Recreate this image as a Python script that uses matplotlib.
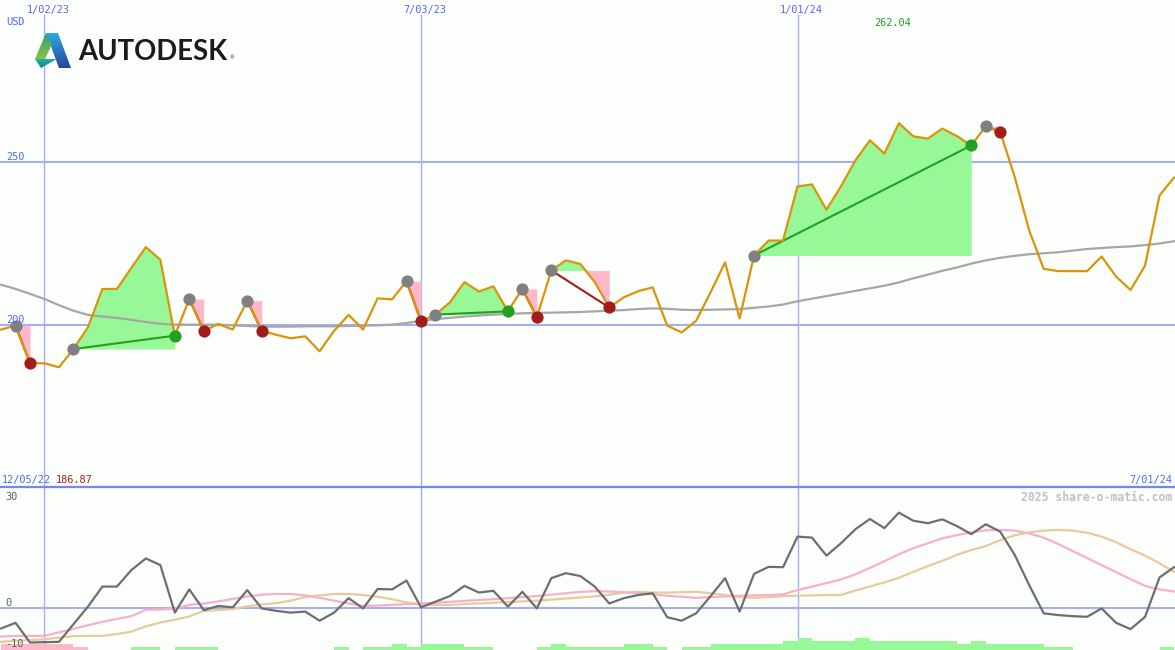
import numpy as np
import matplotlib
matplotlib.use("Agg")
import matplotlib.pyplot as plt
from matplotlib.patches import Polygon
from matplotlib.lines import Line2D
from matplotlib.colors import LinearSegmentedColormap

# ---------------- data ----------------
currency = "USD"
date_labels = ["1/02/23", "7/03/23", "1/01/24"]
date_weeks = [0, 26, 52]
start_label = "12/05/22"
end_label = "7/01/24"
min_label = "186.87"
max_label = "262.04"
price_ticks = [200, 250]
osc_ticks = [30, 0, -10]
credit = "2025 share-o-matic.com"
company = "AUTODESK"

weeks = list(range(-3, 79))  # weeks relative to 1/02/23

price = [198.5, 199.7, 188.1, 188.1, 186.87, 192.5, 199.2, 211.0, 211.0, 217.5,
         223.9, 220.0, 196.6, 207.9, 198.1, 200.2, 198.5, 207.4, 198.1, 196.9,
         195.8, 196.4, 191.8, 198.1, 203.0, 198.5, 208.1, 207.8, 213.4, 201.0,
         203.1, 206.9, 213.1, 210.2, 211.8, 204.1, 211.0, 202.3, 216.7, 219.8,
         218.7, 213.1, 205.3, 208.4, 210.3, 211.5, 199.7, 197.6, 201.2, 210.0,
         219.2, 201.9, 221.3, 225.9, 225.9, 242.6, 243.2, 235.4, 242.6, 250.6,
         256.8, 252.7, 262.04, 258.0, 257.3, 260.4, 258.1, 255.2, 261.1, 259.4,
         245.5, 229.0, 217.2, 216.5, 216.5, 216.5, 221.0, 214.8, 210.7, 218.2,
         239.8, 245.3]

sma = [212.3, 211.0, 209.5, 207.9, 206.0, 204.3, 203.0, 202.5, 202.1, 201.5,
       200.8, 200.3, 200.0, 200.0, 200.0, 200.0, 199.8, 199.6, 199.4, 199.4,
       199.4, 199.5, 199.5, 199.5, 199.6, 199.7, 199.8, 200.0, 200.5, 201.2,
       201.7, 202.1, 202.5, 202.8, 203.1, 203.3, 203.5, 203.6, 203.7, 203.8,
       203.9, 204.1, 204.3, 204.5, 204.8, 205.0, 204.9, 204.6, 204.5, 204.6,
       204.7, 204.8, 205.2, 205.6, 206.2, 207.2, 208.0, 208.8, 209.6, 210.4,
       211.2, 212.0, 213.0, 214.3, 215.4, 216.6, 217.6, 218.8, 219.8, 220.6,
       221.2, 221.7, 222.0, 222.3, 222.8, 223.3, 223.6, 223.9, 224.1, 224.5,
       225.0, 225.7]

momentum = [-5.9, -4.3, -9.9, -9.8, -9.7, -4.7, 0.3, 6.0, 6.0, 10.7,
            14.0, 12.1, -1.4, 5.2, -0.7, 0.5, 0.1, 5.0, -0.2, -0.9,
            -1.4, -1.1, -3.7, -1.4, 2.7, -0.2, 5.3, 5.2, 7.7, 0.1,
            1.7, 3.3, 6.2, 4.3, 4.8, 0.3, 4.5, -0.2, 8.4, 9.8,
            9.0, 6.0, 1.2, 2.7, 3.6, 4.1, -2.7, -3.7, -1.6, 3.3,
            8.4, -1.1, 9.6, 11.6, 11.5, 20.2, 19.9, 14.8, 18.3, 22.3,
            25.2, 22.6, 27.0, 24.7, 24.0, 25.1, 23.2, 20.9, 23.7, 21.6,
            15.0, 6.4, -1.6, -2.1, -2.4, -2.6, -0.2, -4.3, -6.1, -2.6,
            8.6, 11.5]

signal_fast = [-8.2, -8.0, -8.0, -8.0, -7.0, -6.0, -5.0, -4.0, -3.2, -2.4,
               -0.6, -0.5, -0.3, 0.8, 1.2, 1.8, 2.5, 3.2, 3.7, 3.9,
               3.9, 3.5, 2.8, 2.0, 1.2, 0.5, 0.6, 0.8, 1.0, 1.2,
               1.4, 1.7, 1.9, 2.2, 2.4, 2.7, 3.0, 3.3, 3.7, 4.1,
               4.5, 4.7, 4.6, 4.4, 4.1, 3.8, 3.4, 3.1, 2.8, 3.0,
               3.2, 3.4, 3.5, 3.6, 3.8, 5.0, 6.0, 7.0, 8.0, 9.5,
               11.3, 13.2, 15.2, 16.9, 18.3, 19.7, 20.6, 21.4, 22.0, 22.1,
               21.9, 21.1, 19.9, 18.1, 16.1, 14.1, 12.1, 10.1, 8.1, 6.2,
               5.2, 4.6]

signal_slow = [-9.7, -9.4, -9.2, -9.0, -8.5, -8.1, -8.0, -8.0, -7.5, -6.8,
               -5.3, -4.2, -3.4, -2.5, -0.9, -0.7, -0.4, 0.4, 0.9, 1.3,
               2.0, 3.0, 3.5, 3.9, 3.9, 3.6, 3.1, 2.4, 1.5, 0.8,
               0.8, 0.8, 1.0, 1.2, 1.4, 1.6, 1.8, 2.0, 2.3, 2.6,
               2.9, 3.2, 3.7, 4.3, 4.5, 4.3, 4.3, 4.4, 4.5, 4.1,
               3.6, 3.0, 2.8, 3.0, 3.3, 3.4, 3.5, 3.6, 3.6, 4.9,
               6.0, 7.2, 8.5, 10.2, 11.8, 13.3, 15.0, 16.4, 17.5, 19.2,
               20.6, 21.4, 21.9, 22.1, 21.9, 21.3, 20.2, 18.6, 16.6, 14.8,
               12.6, 10.2]

strength = [-2, -2, -2, -2, -2, -1, 0, 0, 0, 1,
            1, 0, 1, 1, 1, 0, 0, 0, 0, 0,
            0, 0, 0, 1, 0, 1, 1, 2, 1, 2,
            2, 2, 1, 1, 0, 0, 0, 1, 2, 1,
            1, 1, 1, 2, 2, 1, 0, 1, 1, 2,
            2, 2, 2, 2, 3, 4, 3, 3, 3, 4,
            3, 3, 3, 3, 3, 3, 2, 3, 2, 2,
            2, 2, 1, 1, 0, 0, 0, 0, 0, 0,
            1, 0]

# (entry week, exit week)
trades = [(-2, -1), (2, 9), (10, 11), (14, 15), (25, 26), (27, 32),
          (33, 34), (35, 39), (49, 64), (65, 66)]

# ---------------- style ----------------
W, H = 1175, 650
BG = "#fcfefc"
LBL = "#5468f0"
GRID = "#a4b0f4"
SEP = "#7686f0"
ORANGE = "#da940a"
SMA_C = "#a6a6a6"
GREEN_FILL = "#98f898"
PINK_FILL = "#ffb8c8"
WIN = "#22a022"
LOSS = "#a31c1c"
ENTRY = "#808080"

X0, DX = 44.5, 14.481           # pixel of week 0 and pixels per week
kL, kR = -X0 / DX, (W - X0) / DX
TOP_H = 487

fig = plt.figure(figsize=(W / 100, H / 100), dpi=100)
fig.patch.set_facecolor(BG)

ax1 = fig.add_axes([0, (H - TOP_H) / H, 1, TOP_H / H])
ax2 = fig.add_axes([0, 0, 1, (H - TOP_H) / H])
for a in (ax1, ax2):
    a.set_facecolor("none")
    a.set_xlim(kL, kR)
    a.axis("off")
ax1.set_ylim(150, 300)
ax2.set_ylim(-12.02, 34.29)

wk = np.array(weeks, dtype=float)
pr = np.array(price)

# grid
for t in price_ticks:
    ax1.axhline(t, color=GRID, lw=1.5, zorder=0.5)
for d in date_weeks:
    ax1.axvline(d, ymin=0, ymax=1 - 15 / TOP_H, color=GRID, lw=1.0, zorder=0.5)
    ax2.axvline(d, color=GRID, lw=1.0, zorder=0.5)
ax2.axhline(0, color=GRID, lw=1.5, zorder=0.5)

# trades
for e, x in trades:
    i0, i1 = weeks.index(e), weeks.index(x)
    sw = wk[i0:i1 + 1]
    sp = pr[i0:i1 + 1]
    lvl = pr[i0]
    ax1.fill_between(sw, sp, lvl, where=sp >= lvl, interpolate=True,
                     color=GREEN_FILL, lw=0, zorder=1)
    ax1.fill_between(sw, sp, lvl, where=sp < lvl, interpolate=True,
                     color=PINK_FILL, lw=0, zorder=1)

ax1.plot(wk, sma, color=SMA_C, lw=1.6, zorder=2)

for e, x in trades:
    i0, i1 = weeks.index(e), weeks.index(x)
    win = pr[i1] > pr[i0]
    ax1.plot([e, x], [pr[i0], pr[i1]], color=WIN if win else LOSS, lw=1.5, zorder=2.5)

ax1.plot(wk, pr, color=ORANGE, lw=1.6, zorder=3)

for e, x in trades:
    i0, i1 = weeks.index(e), weeks.index(x)
    win = pr[i1] > pr[i0]
    ax1.plot(e, pr[i0], "o", color=ENTRY, ms=8.8, mew=0, zorder=4)
    ax1.plot(x, pr[i1], "o", color=WIN if win else LOSS, ms=8.8, mew=0, zorder=4)

# oscillator panel
st = np.array(strength)
px_unit = 3.0 / 3.52
ax2.bar(wk, np.abs(st) * px_unit, width=1.0, align="edge", bottom=-12.02,
        color=[GREEN_FILL if v > 0 else PINK_FILL for v in st], lw=0, zorder=1)
ax2.plot(wk, signal_slow, color="#e4cc9c", lw=1.6, zorder=2)
ax2.plot(wk, signal_fast, color="#f8b0c8", lw=1.6, zorder=2.2)
ax2.plot(wk, momentum, color="#6e6e6e", lw=1.6, zorder=3)

# overlay in pixel coordinates
ov = fig.add_axes([0, 0, 1, 1], zorder=5)
ov.set_facecolor("none")
ov.set_xlim(0, W)
ov.set_ylim(H, 0)
ov.axis("off")

ov.add_line(Line2D([0, W], [TOP_H, TOP_H], color=SEP, lw=1.6))

mono = "DejaVu Sans Mono"
def lab(x, y, s, color=LBL, ha="left", size=7.4, **kw):
    ov.text(x, y, s, color=color, ha=ha, va="baseline", fontsize=size,
            fontfamily=mono, **kw)

lab(6, 25, currency)
for d, s in zip(date_weeks, date_labels):
    lab(X0 + d * DX - 18, 13, s)
lab(874, 26, max_label, color=WIN)
for t in price_ticks:
    ypx = TOP_H - (t - 150) * TOP_H / 150
    lab(6, ypx - 2, str(t))
lab(2, 483, start_label)
lab(56, 483, min_label, color=LOSS)
lab(1172, 483, end_label, ha="right")
lab(1172, 501, credit, color="#c2c2c2", ha="right", size=8.3, fontweight="bold")
for t, ypx in zip(osc_ticks, [500, 606, 647]):
    lab(5, ypx, str(t), color="#606060")

# logo mark
def grad_poly(pts, c_top, c_bot):
    poly = Polygon(pts, closed=True, facecolor="none", edgecolor="none")
    ov.add_patch(poly)
    xs = [p[0] for p in pts]
    ys = [p[1] for p in pts]
    cmap = LinearSegmentedColormap.from_list("g", [c_top, c_bot])
    im = ov.imshow(np.linspace(0, 1, 64)[:, None], cmap=cmap, aspect="auto",
                   extent=(min(xs), max(xs), max(ys), min(ys)), zorder=6,
                   interpolation="bilinear")
    im.set_clip_path(poly)

grad_poly([(46, 33), (58, 33), (71, 68), (59, 68)], "#2aa9e2", "#2b459e")
grad_poly([(35, 59), (46, 33), (52, 44), (45, 59)], "#2f9c74", "#86c440")
grad_poly([(35, 59), (57, 59), (41, 68)], "#22b4a6", "#137f8e")
ov.set_xlim(0, W)
ov.set_ylim(H, 0)

t = ov.text(78, 59.5, company, color="#1b1b1b", fontsize=20, fontfamily="Lato",
            fontweight="bold", va="baseline", ha="left")
fig.canvas.draw()
bb = t.get_window_extent()
t.set_fontsize(20 * 149 / bb.width)
ov.text(229, 59.5, "\u00ae", color="#1b1b1b", fontsize=3.5, fontfamily="DejaVu Sans",
        va="baseline", ha="left")

fig.savefig("out.png", dpi=100, facecolor=BG)
